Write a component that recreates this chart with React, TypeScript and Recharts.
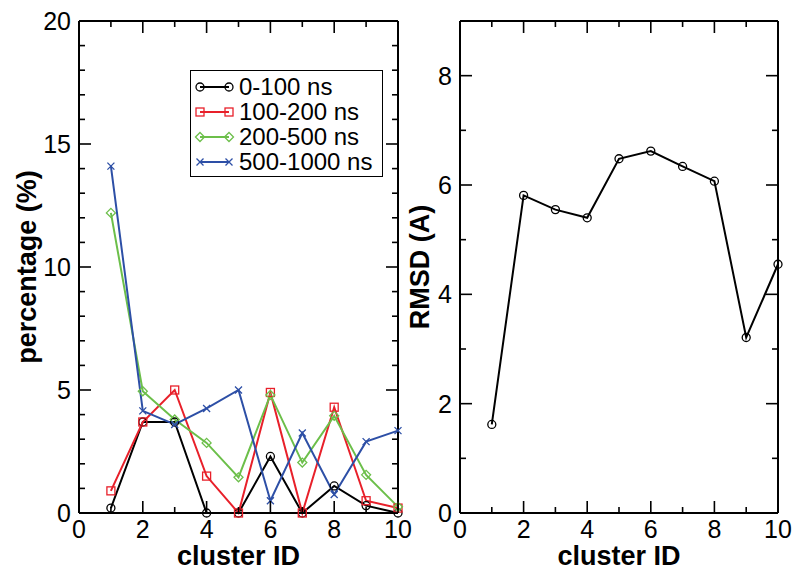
import { Legend, Line, LineChart, XAxis, YAxis } from "recharts";

const FONT = "'Liberation Sans', Arial, Helvetica, sans-serif";

const clusterIds = [1, 2, 3, 4, 5, 6, 7, 8, 9, 10];
const pct0to100 = [0.2, 3.7, 3.7, 0, 0, 2.3, 0, 1.1, 0.3, 0];
const pct100to200 = [0.9, 3.7, 5.0, 1.5, 0, 4.9, 0, 4.3, 0.5, 0.2];
const pct200to500 = [12.2, 4.95, 3.8, 2.85, 1.45, 4.8, 2.05, 3.95, 1.55, 0.25];
const pct500to1000 = [14.1, 4.15, 3.6, 4.25, 5.0, 0.5, 3.25, 0.75, 2.9, 3.35];
const rmsd = [1.62, 5.81, 5.55, 5.4, 6.48, 6.62, 6.34, 6.07, 3.21, 4.55];

const xTicks = [0, 1, 2, 3, 4, 5, 6, 7, 8, 9, 10];
const pctTicks = [0, 1, 2, 3, 4, 5, 6, 7, 8, 9, 10, 11, 12, 13, 14, 15, 16, 17, 18, 19, 20];
const rmsdTicks = [0, 1, 2, 3, 4, 5, 6, 7, 8, 9];

const SERIES = [
  { key: "a", name: "0-100 ns", color: "#000000", marker: "circle" },
  { key: "b", name: "100-200 ns", color: "#e8202a", marker: "square" },
  { key: "c", name: "200-500 ns", color: "#6cbf4a", marker: "diamond" },
  { key: "d", name: "500-1000 ns", color: "#2d4fa6", marker: "cross" },
];

const MAJOR = 12;
const MINOR = 6;

function marker(kind: string, cx: number, cy: number, color: string, key?: any) {
  const common = { fill: "none", stroke: color, strokeWidth: 1.3 };
  if (kind === "square")
    return <rect key={key} x={cx - 4} y={cy - 4} width={8} height={8} {...common} />;
  if (kind === "diamond")
    return <path key={key} d={`M${cx - 4.5},${cy}L${cx},${cy - 4.5}L${cx + 4.5},${cy}L${cx},${cy + 4.5}Z`} {...common} />;
  if (kind === "cross")
    return <path key={key} d={`M${cx - 3.5},${cy - 3.5}L${cx + 3.5},${cy + 3.5}M${cx - 3.5},${cy + 3.5}L${cx + 3.5},${cy - 3.5}`} {...common} />;
  return <circle key={key} cx={cx} cy={cy} r={4} {...common} />;
}

function dotFor(kind: string, color: string) {
  return (p: any) => {
    if (p.cx == null || p.cy == null) return <g key={p.index} />;
    return marker(kind, p.cx, p.cy, color, p.index);
  };
}

// ticks point into the plot; only the major ones carry a label
function bottomTick(every: number) {
  return (p: any) => {
    const v = p.payload.value;
    const major = v % every === 0;
    return (
      <g>
        <line x1={p.x} x2={p.x} y1={p.y} y2={p.y - (major ? MAJOR : MINOR)} stroke="#000" strokeWidth={1.6} />
        {major ? (
          <text x={p.x} y={p.y + 25} textAnchor="middle" fontSize={25} fontFamily={FONT} fill="#000">
            {v}
          </text>
        ) : null}
      </g>
    );
  };
}

function topTick(every: number) {
  return (p: any) => {
    const major = p.payload.value % every === 0;
    return (
      <g>
        <line x1={p.x} x2={p.x} y1={p.y} y2={p.y + (major ? MAJOR : MINOR)} stroke="#000" strokeWidth={1.6} />
      </g>
    );
  };
}

function leftTick(every: number) {
  return (p: any) => {
    const v = p.payload.value;
    const major = v % every === 0;
    return (
      <g>
        <line x1={p.x} x2={p.x + (major ? MAJOR : MINOR)} y1={p.y} y2={p.y} stroke="#000" strokeWidth={1.6} />
        {major ? (
          <text x={p.x - 8} y={p.y + 9} textAnchor="end" fontSize={25} fontFamily={FONT} fill="#000">
            {v}
          </text>
        ) : null}
      </g>
    );
  };
}

function rightTick(every: number) {
  return (p: any) => {
    const major = p.payload.value % every === 0;
    return (
      <g>
        <line x1={p.x} x2={p.x - (major ? MAJOR : MINOR)} y1={p.y} y2={p.y} stroke="#000" strokeWidth={1.6} />
      </g>
    );
  };
}

function XTitle(props: any) {
  const vb = props.viewBox || {};
  return (
    <text x={vb.x + vb.width / 2} y={vb.y + 52} textAnchor="middle" fontSize={27} fontWeight="bold" fontFamily={FONT} fill="#000">
      {props.text}
    </text>
  );
}

function LegendBox(props: any) {
  const payload = props.payload || [];
  const seen = new Set<string>();
  return (
    <div style={{ border: "1.5px solid #000", background: "#fff", width: 193, height: 107, boxSizing: "border-box", paddingTop: 3 }}>
      {payload.map((entry: any) => {
        const s = SERIES.find((x) => x.key === entry.dataKey);
        if (!s || seen.has(s.key) || entry.type === "none") return null;
        seen.add(s.key);
        return (
          <div key={s.key} style={{ display: "flex", alignItems: "center", height: 25 }}>
            <svg width={46} height={14} style={{ display: "block" }}>
              <line x1={9} x2={38} y1={7} y2={7} stroke={s.color} strokeWidth={2} />
              {marker(s.marker, 9, 7, s.color, "l")}
              {marker(s.marker, 38, 7, s.color, "r")}
            </svg>
            <span style={{ fontSize: 24, fontFamily: FONT, lineHeight: "25px", marginLeft: 2, color: "#000", whiteSpace: "nowrap" }}>
              {s.name}
            </span>
          </div>
        );
      })}
    </div>
  );
}

// rotated y-axis title, centred on (cx, cy) of the page
function YTitle({ text, cx, cy }: any) {
  return (
    <div
      style={{
        position: "absolute",
        left: cx - 150,
        top: cy - 16,
        width: 300,
        height: 32,
        lineHeight: "32px",
        textAlign: "center",
        transform: "rotate(-90deg)",
        fontFamily: FONT,
        fontWeight: "bold",
        fontSize: 27,
        color: "#000",
        whiteSpace: "nowrap",
      }}
    >
      {text}
    </div>
  );
}

// box frame: labelled bottom/left axes plus mirrored top/right axes for the inward ticks
function Frame({ yDomain, yTicks, yMajor, yWidth, frameKey }: any) {
  return [
    <XAxis
      key="xb"
      xAxisId="b"
      dataKey="id"
      type="number"
      domain={[0, 10]}
      ticks={xTicks}
      interval={0}
      height={64}
      tickSize={0}
      tickMargin={0}
      tickLine={false}
      axisLine={{ stroke: "#000", strokeWidth: 2 }}
      tick={bottomTick(2)}
      label={<XTitle text="cluster ID" />}
    />,
    <XAxis
      key="xt"
      xAxisId="t"
      orientation="top"
      mirror
      dataKey="id"
      type="number"
      domain={[0, 10]}
      ticks={xTicks}
      interval={0}
      height={1}
      tickSize={0}
      tickMargin={0}
      tickLine={false}
      axisLine={{ stroke: "#000", strokeWidth: 2 }}
      tick={topTick(2)}
    />,
    <YAxis
      key="yl"
      yAxisId="l"
      type="number"
      domain={yDomain}
      ticks={yTicks}
      interval={0}
      width={yWidth}
      tickSize={0}
      tickMargin={0}
      tickLine={false}
      axisLine={{ stroke: "#000", strokeWidth: 2 }}
      tick={leftTick(yMajor)}
    />,
    <YAxis
      key="yr"
      yAxisId="r"
      orientation="right"
      mirror
      type="number"
      domain={yDomain}
      ticks={yTicks}
      interval={0}
      width={1}
      tickSize={0}
      tickMargin={0}
      tickLine={false}
      axisLine={{ stroke: "#000", strokeWidth: 2 }}
      tick={rightTick(yMajor)}
    />,
    // invisible series tying the mirrored top/right axes to the data
    <Line
      key="frame"
      xAxisId="t"
      yAxisId="r"
      dataKey={frameKey}
      stroke="none"
      dot={false}
      activeDot={false}
      legendType="none"
      isAnimationActive={false}
    />,
  ];
}

export default function App() {
  const pctData = clusterIds.map((id, i) => ({
    id,
    a: pct0to100[i],
    b: pct100to200[i],
    c: pct200to500[i],
    d: pct500to1000[i],
  }));
  const rmsdData = clusterIds.map((id, i) => ({ id, rmsd: rmsd[i] }));

  return (
    <div style={{ position: "absolute", left: 0, top: 0, width: 800, height: 577, background: "#fff", overflow: "hidden" }}>
      <div style={{ position: "absolute", left: 0, top: 0 }}>
        <LineChart width={420} height={577} data={pctData} margin={{ top: 21, right: 22, bottom: 0, left: 0 }}>
          {Frame({ yDomain: [0, 20], yTicks: pctTicks, yMajor: 5, yWidth: 79, frameKey: "a" })}
          <Legend
            layout="vertical"
            align="center"
            verticalAlign="middle"
            content={<LegendBox />}
            wrapperStyle={{ left: 190, top: 70, width: 193, height: 107 }}
          />
          {SERIES.map((s) => (
            <Line
              key={s.key}
              xAxisId="b"
              yAxisId="l"
              dataKey={s.key}
              name={s.name}
              type="linear"
              stroke={s.color}
              strokeWidth={2}
              dot={dotFor(s.marker, s.color)}
              activeDot={false}
              isAnimationActive={false}
            />
          ))}
        </LineChart>
      </div>
      <div style={{ position: "absolute", left: 400, top: 0 }}>
        <LineChart width={400} height={577} data={rmsdData} margin={{ top: 21, right: 22, bottom: 0, left: 0 }}>
          {Frame({ yDomain: [0, 9], yTicks: rmsdTicks, yMajor: 2, yWidth: 60, frameKey: "rmsd" })}
          <Line
            xAxisId="b"
            yAxisId="l"
            dataKey="rmsd"
            type="linear"
            stroke="#000"
            strokeWidth={2}
            dot={dotFor("circle", "#000")}
            activeDot={false}
            isAnimationActive={false}
          />
        </LineChart>
      </div>
      <YTitle text="percentage (%)" cx={27} cy={267} />
      <YTitle text="RMSD (A)" cx={420} cy={267} />
    </div>
  );
}
